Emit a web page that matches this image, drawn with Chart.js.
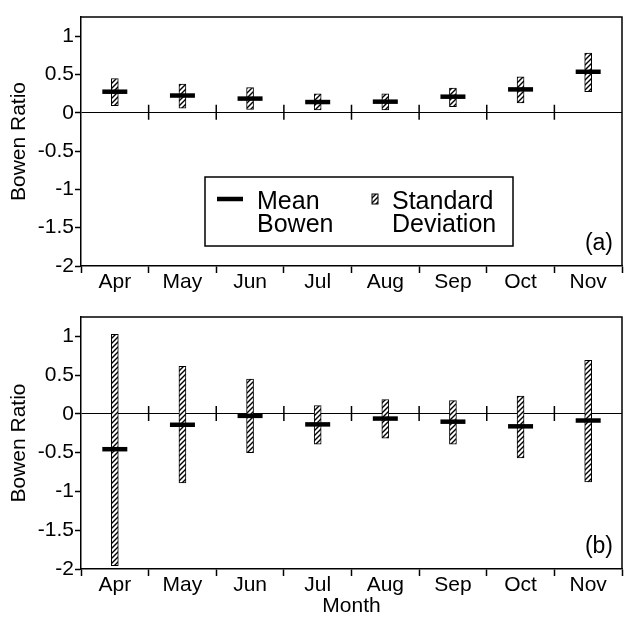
<!DOCTYPE html>
<html><head><meta charset="utf-8">
<script src="https://cdn.jsdelivr.net/npm/chart.js@4.4.1/dist/chart.umd.min.js"></script>
<style>
html,body{margin:0;padding:0;background:#fff;}
#wrap{position:relative;width:639px;height:621px;overflow:hidden;background:#fff;}
#c1{position:absolute;left:0;top:0;}
#c2{position:absolute;left:0;top:300px;}
</style></head><body>
<div id="wrap">
<canvas id="c1" width="639" height="300"></canvas>
<canvas id="c2" width="639" height="321"></canvas>
</div>
<script>
// ---- data ----
const months = ['Apr','May','Jun','Jul','Aug','Sep','Oct','Nov'];
const yTickValues = [-2, -1.5, -1, -0.5, 0, 0.5, 1];
// panel (a)
const meanA   = [0.275, 0.225, 0.185, 0.14, 0.145, 0.21, 0.305, 0.535];
const sdLowA  = [0.094, 0.060, 0.043, 0.038, 0.038, 0.081, 0.128, 0.277];
const sdHighA = [0.447, 0.374, 0.330, 0.247, 0.247, 0.323, 0.468, 0.779];
// panel (b)
const meanB   = [-0.455, -0.14, -0.025, -0.135, -0.06, -0.10, -0.16, -0.085];
const sdLowB  = [-1.957, -0.889, -0.500, -0.389, -0.312, -0.389, -0.568, -0.876];
const sdHighB = [1.026, 0.615, 0.449, 0.107, 0.184, 0.171, 0.231, 0.692];

const FONT = '"Liberation Sans", Arial, Helvetica, sans-serif';
Chart.defaults.font.family = FONT;
Chart.defaults.color = '#000';

function makeHatch() {
  const s = 5;
  const c = document.createElement('canvas');
  c.width = s; c.height = s;
  const g = c.getContext('2d');
  g.fillStyle = '#fff'; g.fillRect(0, 0, s, s);
  g.strokeStyle = '#000'; g.lineWidth = 1.4;
  g.beginPath();
  g.moveTo(-1, s + 1); g.lineTo(s + 1, -1);
  g.moveTo(-1, 1); g.lineTo(1, -1);
  g.moveTo(s - 1, s + 1); g.lineTo(s + 1, s - 1);
  g.stroke();
  return g.createPattern(c, 'repeat');
}

const framePlugin = {
  id: 'frame',
  afterDatasetsDraw(chart, args, opts) {
    const ctx = chart.ctx, ca = chart.chartArea;
    const xs = chart.scales.x, ys = chart.scales.y;
    ctx.save();
    // top & right border
    ctx.strokeStyle = '#000'; ctx.lineWidth = 1.5;
    ctx.beginPath();
    ctx.moveTo(ca.left, ca.top); ctx.lineTo(ca.right, ca.top); ctx.lineTo(ca.right, ca.bottom);
    ctx.stroke();
    // month separator ticks crossing the zero line
    const y0 = ys.getPixelForValue(0);
    ctx.beginPath();
    for (let i = 0; i < months.length - 1; i++) {
      const xb = (xs.getPixelForValue(i) + xs.getPixelForValue(i + 1)) / 2;
      ctx.moveTo(xb, y0 - 8); ctx.lineTo(xb, y0 + 7);
    }
    ctx.stroke();
    // panel label
    ctx.fillStyle = '#000';
    ctx.font = '23px ' + FONT;
    ctx.textAlign = 'right'; ctx.textBaseline = 'alphabetic';
    ctx.fillText(opts.label, ca.right - 9, ca.bottom - 16);
    // legend
    if (opts.legend) {
      const L = ca.left, T = ca.top;
      ctx.lineWidth = 1.5;
      ctx.strokeRect(L + 124, T + 160, 308, 69);
      ctx.lineWidth = 4.5;
      ctx.beginPath(); ctx.moveTo(L + 136, T + 182); ctx.lineTo(L + 162, T + 182); ctx.stroke();
      ctx.fillStyle = opts.hatch;
      ctx.fillRect(L + 291, T + 177, 6, 10);
      ctx.lineWidth = 1; ctx.strokeRect(L + 291, T + 177, 6, 10);
      ctx.fillStyle = '#000';
      ctx.font = '25px ' + FONT;
      ctx.textAlign = 'left';
      ctx.fillText('Mean', L + 176, T + 192);
      ctx.fillText('Bowen', L + 176, T + 215);
      ctx.fillText('Standard', L + 311, T + 192);
      ctx.fillText('Deviation', L + 311, T + 215);
    }
    ctx.restore();
  }
};

function makeChart(id, mean, lo, hi, label, withLegend, showTitle) {
  const hatch = makeHatch();
  const xHeight = showTitle ? 52 : 34;
  return new Chart(document.getElementById(id), {
    type: 'bar',
    data: {
      labels: months,
      datasets: [
        {
          type: 'line', label: 'Mean Bowen', data: mean, showLine: false,
          pointStyle: 'line', pointRadius: 12.5, pointHoverRadius: 12.5,
          pointBorderWidth: 4.5, pointHoverBorderWidth: 4.5,
          pointBorderColor: '#000', borderColor: '#000', order: 0
        },
        {
          type: 'bar', label: 'Standard Deviation',
          data: months.map((m, i) => [lo[i], hi[i]]),
          backgroundColor: hatch, borderColor: '#000', borderWidth: 1,
          borderSkipped: false, barThickness: 7, order: 1
        }
      ]
    },
    options: {
      responsive: false, animation: false, events: [],
      layout: { padding: { left: 0, right: 3, top: showTitle ? 14 : 10, bottom: 0 } },
      plugins: {
        legend: { display: false }, tooltip: { enabled: false },
        frame: { label: label, legend: withLegend, hatch: hatch }
      },
      scales: {
        x: {
          offset: true,
          grid: { offset: true, drawOnChartArea: false, drawTicks: true, tickLength: 7,
                  tickWidth: 1.5, tickColor: '#000' },
          border: { display: true, color: '#000', width: 1.5 },
          ticks: { padding: 0, font: { size: 21, lineHeight: 0.9 }, color: '#000', maxRotation: 0 },
          title: { display: showTitle, text: 'Month', color: '#000',
                   font: { size: 21, lineHeight: 1 }, padding: { top: 0, bottom: 4 } },
          afterFit(s) { s.height = xHeight; }
        },
        y: {
          min: -2, max: 1.25,
          afterBuildTicks(s) { s.ticks = yTickValues.map(v => ({ value: v })); },
          grid: {
            drawOnChartArea: true, drawTicks: true, tickLength: 6, tickWidth: 1.5, tickColor: '#000',
            color: c => (c.tick && c.tick.value === 0) ? '#000' : 'rgba(0,0,0,0)',
            lineWidth: 1
          },
          border: { display: true, color: '#000', width: 1.5 },
          ticks: { padding: 1, font: { size: 21, lineHeight: 0.9 }, color: '#000',
                   callback: v => String(v) },
          title: { display: true, text: 'Bowen Ratio', color: '#000',
                   font: { size: 21, lineHeight: 1 }, padding: { top: 9, bottom: 0 } },
          afterFit(s) { s.width = 81; }
        }
      }
    },
    plugins: [framePlugin]
  });
}

makeChart('c1', meanA, sdLowA, sdHighA, '(a)', true, false);
makeChart('c2', meanB, sdLowB, sdHighB, '(b)', false, true);
</script>
</body></html>
